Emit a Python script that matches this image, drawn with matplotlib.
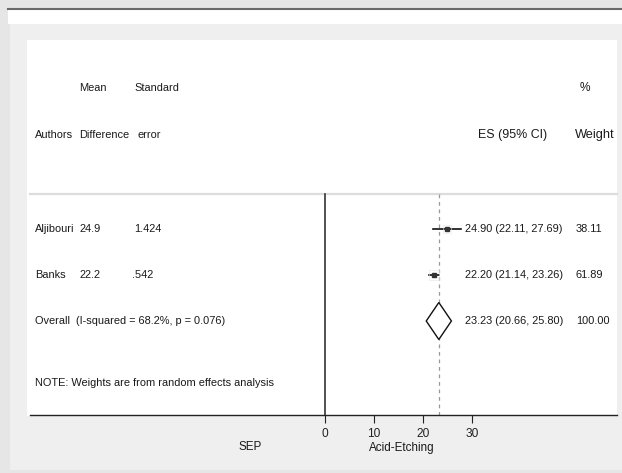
import matplotlib
matplotlib.use("Agg")
import matplotlib.pyplot as plt
from matplotlib.patches import Rectangle, Polygon

plt.rcParams['font.family'] = ['Liberation Sans', 'DejaVu Sans']

# ---- data ----
studies = ["Aljibouri", "Banks"]
mean_diff = ["24.9", "22.2"]
std_err = ["1.424", ".542"]
es = [24.90, 22.20]
ci_low = [22.11, 21.14]
ci_high = [27.69, 23.26]
weights = [38.11, 61.89]
overall_es = 23.23
overall_low = 20.66
overall_high = 25.80
overall_label = "Overall  (I-squared = 68.2%, p = 0.076)"
note = "NOTE: Weights are from random effects analysis"
xticks = [0, 10, 20, 30]
left_label = "SEP"
right_label = "Acid-Etching"

W, H = 622, 473
fig = plt.figure(figsize=(W / 100, H / 100), dpi=100, facecolor='#e6e6e6')

def frect(x0, y0, x1, y1, **kw):
    fig.patches.append(Rectangle((x0 / W, 1 - y1 / H), (x1 - x0) / W, (y1 - y0) / H,
                                 transform=fig.transFigure, figure=fig, zorder=-10, **kw))

# window-like frame
frect(8, 10, W, 24, facecolor='white', edgecolor='none')
frect(10, 24, W, 470, facecolor='#efefef', edgecolor='none')
frect(27, 40, 617, 416, facecolor='white', edgecolor='none')
fig.add_artist(plt.Line2D([8 / W, 1], [1 - 9.5 / H, 1 - 9.5 / H], transform=fig.transFigure,
                          color='#6a6a6a', lw=1.5, zorder=-5))

# axes over inner white region; y in pixel rows (top=40, bottom=415)
ax_l, ax_r, ax_t, ax_b = 30, 617, 40, 415
ax = fig.add_axes([ax_l / W, 1 - ax_b / H, (ax_r - ax_l) / W, (ax_b - ax_t) / H])
ax.set_zorder(5)
ax.set_facecolor('none')
px_per_unit = 4.9
x0_px = 325
ax.set_xlim((ax_l - x0_px) / px_per_unit, (ax_r - x0_px) / px_per_unit)
ax.set_ylim(ax_b, ax_t)
for s in ['top', 'left', 'right']:
    ax.spines[s].set_visible(False)
ax.spines['bottom'].set_color('#222222')
ax.spines['bottom'].set_linewidth(1.0)
ax.set_yticks([])
ax.set_xticks(xticks)
ax.set_xticklabels([str(t) for t in xticks])
ax.tick_params(axis='x', length=6, width=0.8, color='#222222', labelsize=8.6, pad=3,
               labelcolor='#222222')

# row positions (layout)
y_h1, y_h2 = 88, 135
y_rows = [229, 275]
y_overall = 321
y_note = 383
y_sep = 194

fs = 7.9
tc = '#1a1a1a'
trans = ax.get_yaxis_transform()  # x in axes fraction, y in data

def colx(px):
    return (px - ax_l) / (ax_r - ax_l)

# separator
ax.plot([0, 1], [y_sep, y_sep], transform=trans, color='#dcdcdc', lw=1.6, clip_on=False)

# headers
ax.text(colx(79), y_h1, "Mean", transform=trans, fontsize=fs, color=tc, va='center')
ax.text(colx(134), y_h1, "Standard", transform=trans, fontsize=fs, color=tc, va='center')
ax.text(colx(580), y_h1, "%", transform=trans, fontsize=8.6, color=tc, va='center')
ax.text(colx(35), y_h2, "Authors", transform=trans, fontsize=fs, color=tc, va='center')
ax.text(colx(79), y_h2, "Difference", transform=trans, fontsize=fs, color=tc, va='center')
ax.text(colx(137), y_h2, "error", transform=trans, fontsize=fs, color=tc, va='center')
ax.text(colx(547), y_h2, "ES (95% CI)", transform=trans, fontsize=8.9, color=tc, va='center', ha='right')
ax.text(colx(575), y_h2, "Weight", transform=trans, fontsize=9.2, color=tc, va='center')

# null line and dashed overall line
ax.plot([0, 0], [y_sep, ax_b], color='#333333', lw=1.2)
ax.plot([overall_es, overall_es], [y_sep, ax_b], color='#999999', lw=0.9, ls=(0, (3, 3)))

# studies
for i, y in enumerate(y_rows):
    ax.text(colx(35), y, studies[i], transform=trans, fontsize=fs, color=tc, va='center')
    ax.text(colx(79), y, mean_diff[i], transform=trans, fontsize=fs, color=tc, va='center')
    ax.text(colx(134 if i == 0 else 132), y, std_err[i], transform=trans, fontsize=fs, color=tc, va='center')
    ax.plot([ci_low[i], ci_high[i]], [y, y], color='#111111', lw=1.2)
    ax.plot([es[i]], [y], marker='s', ms=2.5, color='#333333', mec='#333333')
    ax.plot([es[i]], [y], marker='s', ms=4 + weights[i] / 20, mfc='none', mec='#e6e6e6', mew=0.4)
    ax.text(colx(465), y, f"{es[i]:.2f} ({ci_low[i]:.2f}, {ci_high[i]:.2f})", transform=trans,
            fontsize=fs, color=tc, va='center')
    ax.text(colx(576), y, f"{weights[i]:.2f}", transform=trans, fontsize=fs, color=tc, va='center')

# overall
ax.text(colx(35), y_overall, overall_label, transform=trans, fontsize=fs, color=tc, va='center')
dh = 18.5
ax.add_patch(Polygon([[overall_low, y_overall], [overall_es, y_overall - dh],
                      [overall_high, y_overall], [overall_es, y_overall + dh]],
                     closed=True, facecolor='white', edgecolor='#111111', lw=1.0, zorder=3))
ax.text(colx(465), y_overall, f"{overall_es:.2f} ({overall_low:.2f}, {overall_high:.2f})",
        transform=trans, fontsize=fs, color=tc, va='center')
ax.text(colx(576), y_overall, f"{sum(weights):.2f}", transform=trans, fontsize=fs, color=tc, va='center')

# note
ax.text(colx(35), y_note, note, transform=trans, fontsize=fs, color=tc, va='center')

# bottom labels
fig.text(250 / W, 1 - 447 / H, left_label, fontsize=8.4, color=tc, ha='center', va='center')
fig.text(402 / W, 1 - 448 / H, right_label, fontsize=8.4, color=tc, ha='center', va='center')

fig.savefig("out.png", dpi=100, facecolor=fig.get_facecolor())
